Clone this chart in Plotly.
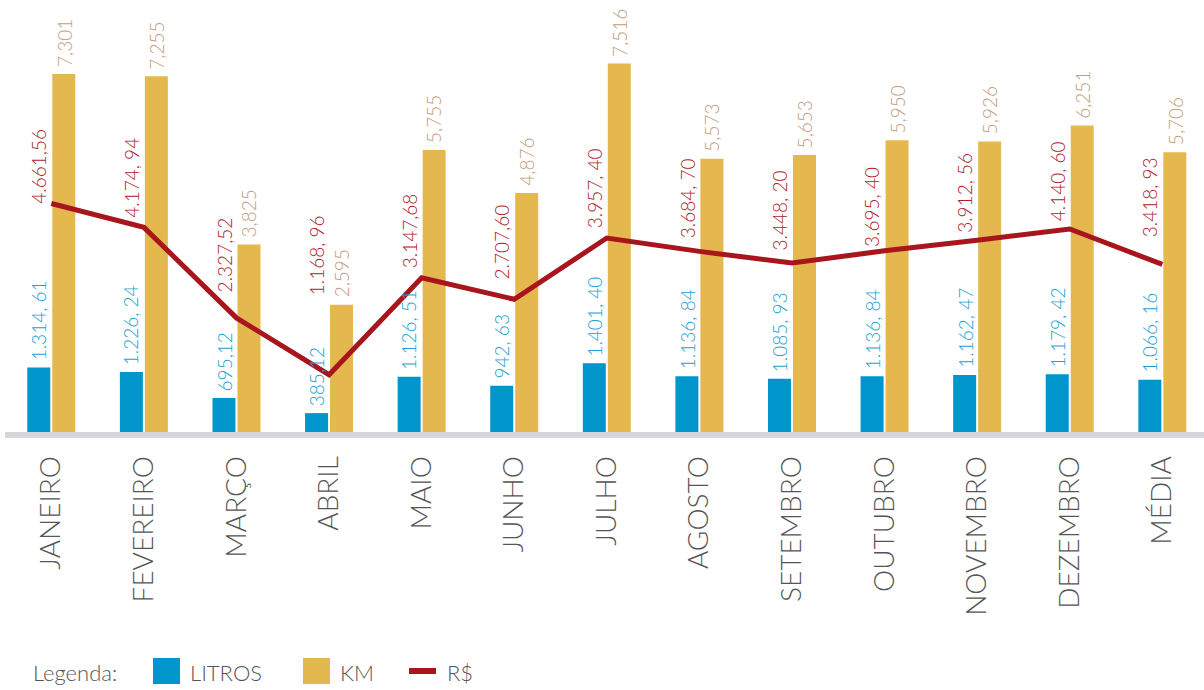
import plotly.graph_objects as go

categories = ["JANEIRO", "FEVEREIRO", "MARÇO", "ABRIL", "MAIO", "JUNHO", "JULHO",
              "AGOSTO", "SETEMBRO", "OUTUBRO", "NOVEMBRO", "DEZEMBRO", "MÉDIA"]
litros = [1314.61, 1226.24, 695.12, 385.12, 1126.51, 942.63, 1401.40,
          1136.84, 1085.93, 1136.84, 1162.47, 1179.42, 1066.16]
km = [7301, 7255, 3825, 2595, 5755, 4876, 7516, 5573, 5653, 5950, 5926, 6251, 5706]
reais = [4661.56, 4174.94, 2327.52, 1168.96, 3147.68, 2707.60, 3957.40,
         3684.70, 3448.20, 3695.40, 3912.56, 4140.60, 3418.93]

litros_labels = ["1.314, 61", "1.226, 24", "695,12", "385,12", "1.126, 51", "942, 63", "1.401, 40",
                 "1.136, 84", "1.085, 93", "1.136, 84", "1.162, 47", "1.179, 42", "1.066, 16"]
km_labels = ["7,301", "7,255", "3,825", "2,595", "5,755", "4,876", "7,516",
             "5,573", "5,653", "5,950", "5,926", "6,251", "5,706"]
reais_labels = ["4.661,56", "4.174, 94", "2.327,52", "1.168, 96", "3.147,68", "2.707,60", "3.957, 40",
                "3.684, 70", "3.448, 20", "3.695, 40", "3.912, 56", "4.140, 60", "3.418, 93"]
# extra lift (px) of the R$ labels above their line point
reais_label_lift = [0, 10, 26, 79, 9, 20, 10, 13, 13, 4, 7, 8, 27]

C_LIT = "#0096cc"
C_KM = "#e5b84f"
C_RS = "#a8151c"
C_LIT_T = "#1f9fd5"
C_KM_T = "#c49c80"
C_RS_T = "#b0202a"
C_TXT = "#555555"
FONT = "Lato"

W, H = 1204, 690
L, R, T, B = 5, 0, 0, 258
PW, PH = W - L - R, H - T - B
YMAX = PH * 20.4

fig = go.Figure()
fig.add_trace(go.Bar(x=categories, y=litros, name="LITROS", marker=dict(color=C_LIT, line_width=0)))
fig.add_trace(go.Bar(x=categories, y=km, name="KM", marker=dict(color=C_KM, line_width=0)))
fig.add_trace(go.Scatter(x=categories, y=reais, name="R$", mode="lines",
                         line=dict(color=C_RS, width=5)))

ann = []
vfont = 19
for i, c in enumerate(categories):
    ann.append(dict(x=c, y=litros[i], xref="x", yref="y", text=litros_labels[i], textangle=-90,
                    showarrow=False, xanchor="center", yanchor="bottom", xshift=-12.5, yshift=5,
                    font=dict(family=FONT, size=vfont, color=C_LIT_T, weight=300)))
    ann.append(dict(x=c, y=km[i], xref="x", yref="y", text=km_labels[i], textangle=-90,
                    showarrow=False, xanchor="center", yanchor="bottom", xshift=12.5, yshift=5,
                    font=dict(family=FONT, size=vfont, color=C_KM_T, weight=300)))
    ann.append(dict(x=c, y=reais[i], xref="x", yref="y", text=reais_labels[i], textangle=-90,
                    showarrow=False, xanchor="center", yanchor="bottom", xshift=-12.5,
                    yshift=reais_label_lift[i] - 2,
                    font=dict(family=FONT, size=vfont, color=C_RS_T, weight=300)))


def px(x):
    return (x - L) / PW


def py(y):
    return (H - B - y) / PH


lfont = dict(family=FONT, size=22, color=C_TXT, weight=300)
ann.append(dict(x=px(31), y=py(672), xref="paper", yref="paper", text="Legenda:", showarrow=False,
                xanchor="left", yanchor="middle", font=lfont))
ann.append(dict(x=px(188), y=py(672), xref="paper", yref="paper", text="LITROS", showarrow=False,
                xanchor="left", yanchor="middle", font=lfont))
ann.append(dict(x=px(338), y=py(672), xref="paper", yref="paper", text="KM", showarrow=False,
                xanchor="left", yanchor="middle", font=lfont))
ann.append(dict(x=px(445), y=py(672), xref="paper", yref="paper", text="R$", showarrow=False,
                xanchor="left", yanchor="middle", font=lfont))

shapes = [
    dict(type="rect", xref="paper", yref="paper", x0=px(153), x1=px(180), y0=py(684), y1=py(658),
         fillcolor=C_LIT, line_width=0),
    dict(type="rect", xref="paper", yref="paper", x0=px(303), x1=px(330), y0=py(684), y1=py(658),
         fillcolor=C_KM, line_width=0),
    dict(type="rect", xref="paper", yref="paper", x0=px(409), x1=px(436), y0=py(674), y1=py(668),
         fillcolor=C_RS, line_width=0),
]

fig.update_layout(
    width=W, height=H, margin=dict(l=L, r=R, t=T, b=B),
    paper_bgcolor="white", plot_bgcolor="white",
    barmode="group", bargap=0.46, bargroupgap=0.08,
    showlegend=False,
    annotations=ann, shapes=shapes,
    xaxis=dict(range=[-0.5, 12.45], showline=True, linewidth=6, linecolor="#d6d7db",
               tickangle=-90, tickfont=dict(family=FONT, size=28, color=C_TXT, weight=300),
               ticks="", ticklabelstandoff=7, showgrid=False, zeroline=False, fixedrange=True),
    yaxis=dict(range=[0, YMAX], visible=False, showgrid=False, zeroline=False, fixedrange=True),
)

fig.write_html("out.html", config={"displayModeBar": False},
               post_script="document.body.style.margin='0';document.body.style.padding='0';")
